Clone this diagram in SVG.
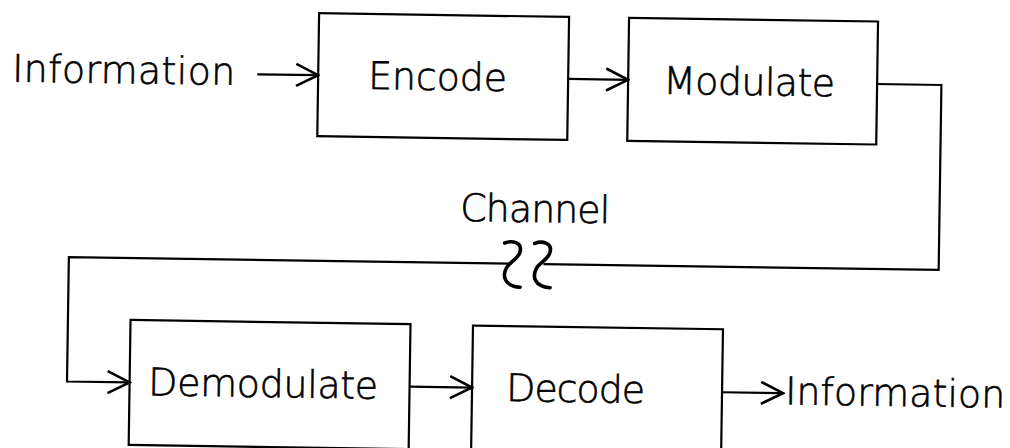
<svg xmlns="http://www.w3.org/2000/svg" width="1010" height="448" viewBox="0 0 1010 448">
  <style>
    .box { fill: none; stroke: #000; stroke-width: 2.2; }
    .wire { fill: none; stroke: #000; stroke-width: 2.2; }
    .brk { fill: none; stroke: #000; stroke-width: 3.6; stroke-linecap: round; }
    .lbl { font-family: "DejaVu Sans ExtraLight", "DejaVu Sans", "Liberation Sans", sans-serif; font-weight: 200; font-size: 38px; fill: #000; stroke: #000; stroke-width: 0.6; }
  </style>
  <defs>
    <marker id="chev" markerUnits="userSpaceOnUse" viewBox="-24 -13 26 26" markerWidth="26" markerHeight="26" refX="0" refY="0" orient="auto">
      <path d="M -22 -11 L 0 0 L -22 11" fill="none" stroke="#000" stroke-width="2.6"/>
    </marker>
  </defs>
  <rect width="1010" height="448" fill="#fff"/>
  <!-- whole drawing sits about 0.85 degrees off square -->
  <g transform="rotate(0.85 505 224)">
    <g id="connectors">
      <path class="wire" d="M 255 78 H 316" marker-end="url(#chev)"/>
      <path class="wire" d="M 566 78 H 626" marker-end="url(#chev)"/>
      <path class="wire" d="M 875 78.5 H 939.3 V 263.5 H 544"/>
      <path class="wire" d="M 512 263.5 H 69.4 V 388 H 132" marker-end="url(#chev)"/>
      <path class="wire" d="M 412 388 H 474.5" marker-end="url(#chev)"/>
      <path class="wire" d="M 724.5 389 H 785.5" marker-end="url(#chev)"/>
    </g>
    <g id="channel">
      <path class="brk" d="M 505 243 C 512 240, 524 242, 520 253 C 517 260, 510 262, 507 268 C 503 276, 505 286, 521 287"/>
      <path class="brk" d="M 535 243 C 542 240, 554 242, 550 253 C 547 260, 540 262, 537 268 C 533 276, 535 286, 551 287"/>
      <text class="lbl" x="460" y="221.6" textLength="150">Channel</text>
    </g>
    <g id="source">
      <text class="lbl" x="10" y="89" textLength="223">Information</text>
    </g>
    <g id="encode">
      <rect class="box" x="316" y="16" width="250" height="123"/>
      <text class="lbl" x="366" y="91" textLength="139">Encode</text>
    </g>
    <g id="modulate">
      <rect class="box" x="626" y="16" width="249" height="123"/>
      <text class="lbl" x="661" y="91.4" textLength="172">Modulate</text>
    </g>
    <g id="demodulate">
      <rect class="box" x="132" y="325.5" width="280" height="125"/>
      <text class="lbl" x="150.6" y="400.6" textLength="230">Demodulate</text>
    </g>
    <g id="decode">
      <rect class="box" x="474.5" y="326" width="250" height="125"/>
      <text class="lbl" x="508.6" y="401" textLength="139">Decode</text>
    </g>
    <g id="sink">
      <text class="lbl" x="787.7" y="400.2" textLength="220">Information</text>
    </g>
  </g>
</svg>
